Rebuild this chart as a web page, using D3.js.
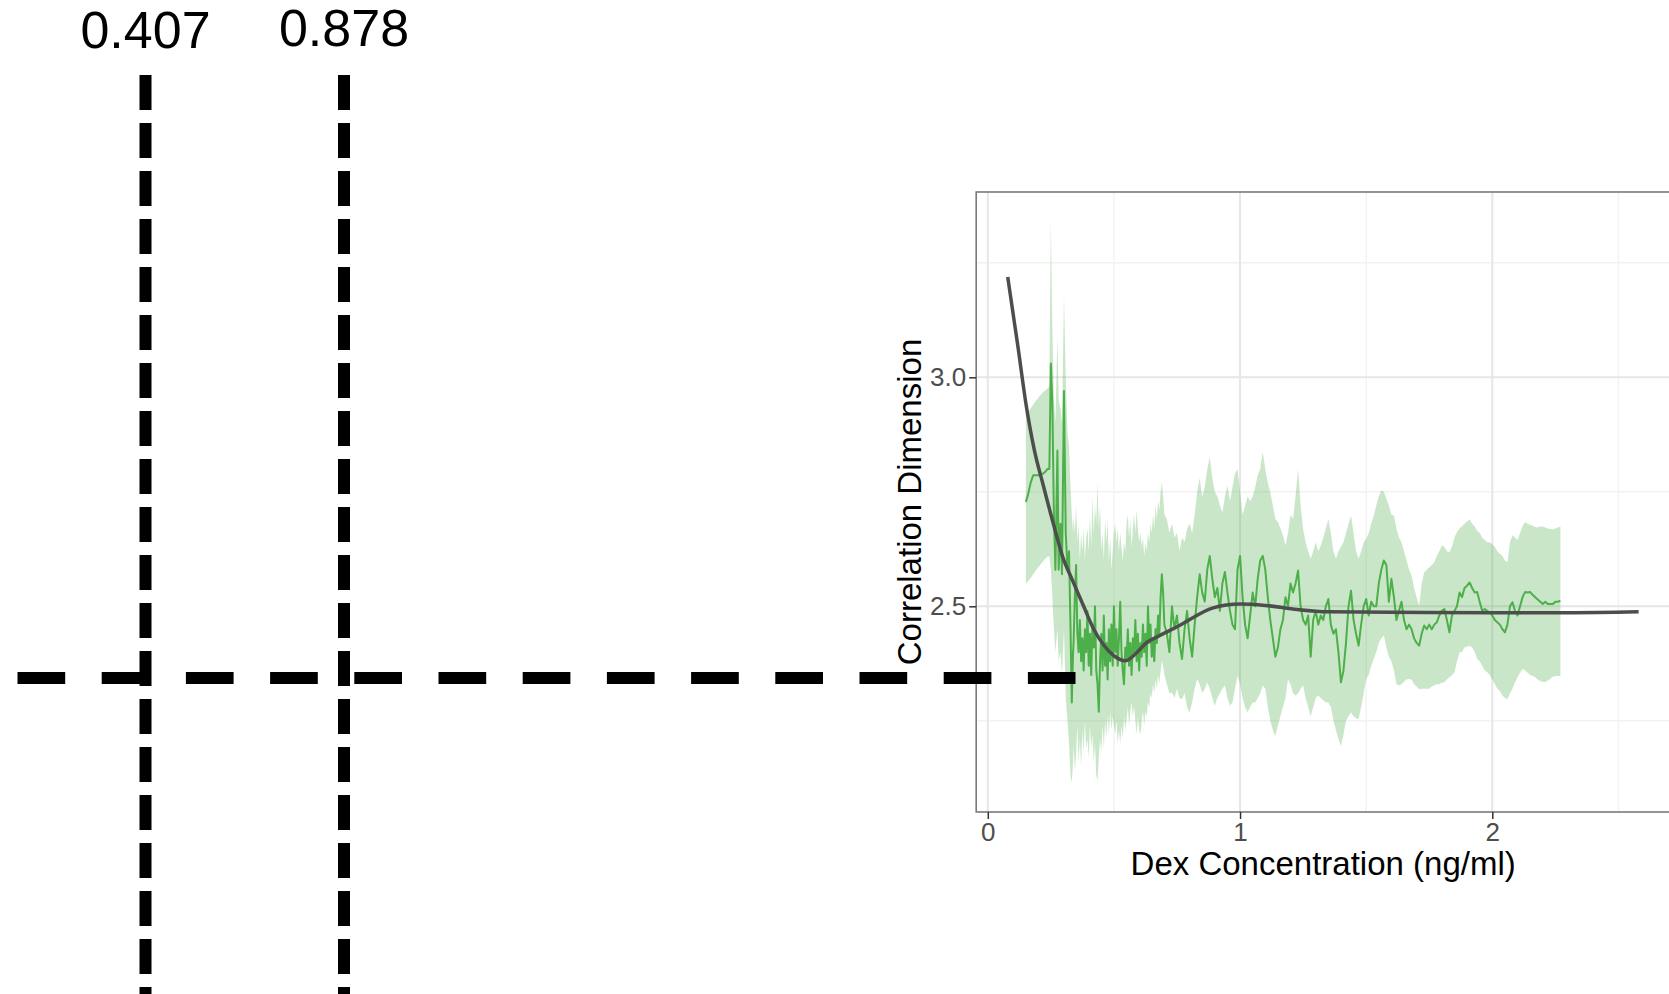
<!DOCTYPE html>
<html>
<head>
<meta charset="utf-8">
<script src="https://cdn.jsdelivr.net/npm/d3@7"></script>
<style>
  html, body { margin: 0; padding: 0; background: #ffffff; }
  svg { display: block; }
  text { font-family: "Liberation Sans", Arial, Helvetica, sans-serif; }
</style>
</head>
<body>
<svg id="chart" width="1669" height="994"></svg>
<script>
// ---------------- DATA ----------------
// Dex concentration (ng/ml) sample positions
const conc = [
  0.151,0.16,0.17,0.18,0.19,0.20,0.21,0.22,0.23,0.237,
  0.244,0.250,0.256,0.262,0.268,0.276,0.281,0.288,0.294,0.302,0.309,0.316,0.322,0.328,0.333,0.338,
  0.340,0.345,0.350,0.355,0.360,0.365,0.370,0.375,0.380,0.385,0.390,0.395,0.400,0.405,0.410,0.415,
  0.420,0.425,0.430,0.435,0.440,0.445,0.450,0.455,0.460,0.465,0.470,0.475,0.480,0.485,0.490,0.495,0.500,
  0.505,0.510,0.515,0.520,0.525,0.530,0.535,0.540,0.545,0.550,0.555,0.560,0.565,0.570,0.575,0.580,
  0.585,0.590,0.595,0.600,0.605,0.610,0.615,0.620,0.625,0.630,0.635,0.640,0.645,0.650,0.655,0.660,
  0.665,0.670,0.675,0.680,0.685,0.690,0.695,0.700,
  0.71,0.72,0.73,0.74,0.75,0.76,0.77,0.78,0.79,0.80,0.81,0.82,0.83,0.84,0.85,0.86,0.87,0.88,0.89,0.90,
  0.91,0.92,0.93,0.94,0.95,0.96,0.97,0.98,0.99,1.00,1.01,1.02,1.03,1.04,1.05,1.06,1.07,1.08,1.09,1.10,
  1.11,1.12,1.13,1.14,1.15,1.16,1.17,1.18,1.19,
  1.20,1.21,1.22,1.23,1.24,1.25,1.26,1.27,1.28,1.29,1.30,1.31,1.32,1.33,1.34,1.35,1.36,1.37,1.38,1.39,
  1.40,1.41,1.42,1.43,1.44,1.45,1.46,1.47,1.48,1.49,1.50,1.51,1.52,1.53,1.54,1.55,1.56,1.57,1.58,1.59,
  1.60,1.61,1.62,1.63,1.64,1.65,1.66,1.67,1.68,1.69,1.70,1.71,1.72,1.73,1.74,1.75,1.76,1.77,1.78,1.79,
  1.80,1.81,1.82,1.83,1.84,1.85,1.86,1.87,1.88,1.89,1.90,1.91,1.92,1.93,1.94,1.95,1.96,1.97,1.98,1.99,
  2.00,2.01,2.02,2.03,2.04,2.05,2.06,2.07,2.08,2.09,2.10,2.11,2.12,2.13,2.14,2.15,2.16,2.17,2.18,2.19,
  2.20,2.21,2.22,2.23,2.24,2.25,2.26,2.27
];

// Correlation dimension (green line)
const corrDim = [
  2.728,2.745,2.770,2.786,2.786,2.786,2.788,2.790,2.795,2.800,
  2.80,3.03,2.94,2.70,2.58,2.84,2.58,2.68,2.57,2.97,2.66,2.58,2.62,2.45,2.29,2.40,
  2.42,2.52,2.59,2.44,2.40,2.47,2.38,2.43,2.36,2.45,2.40,2.49,2.37,2.44,2.35,2.46,
  2.41,2.50,2.36,2.33,2.27,2.38,2.44,2.36,2.48,2.37,2.42,2.34,2.45,2.38,2.46,2.37,2.50,
  2.40,2.45,2.37,2.43,2.51,2.40,2.36,2.33,2.41,2.38,2.45,2.37,2.42,2.35,2.43,2.40,
  2.47,2.38,2.44,2.36,2.42,2.39,2.46,2.40,2.44,2.37,2.50,2.42,2.46,2.39,2.43,2.38,
  2.45,2.42,2.48,2.44,2.52,2.57,2.53,2.46,
  2.44,2.40,2.50,2.45,2.48,2.42,2.385,2.45,2.49,2.43,2.39,2.46,2.52,2.57,2.53,2.51,2.58,2.61,2.56,2.52,
  2.54,2.49,2.55,2.575,2.53,2.49,2.46,2.45,2.58,2.61,2.52,2.46,2.43,2.48,2.53,2.50,2.56,2.60,2.61,2.58,
  2.52,2.47,2.43,2.39,2.41,2.45,2.47,2.52,2.50,
  2.55,2.53,2.55,2.578,2.50,2.47,2.46,2.48,2.39,2.47,2.49,2.46,2.48,2.47,2.50,2.516,2.46,2.44,2.45,2.40,
  2.334,2.36,2.42,2.50,2.534,2.47,2.44,2.414,2.46,2.50,2.516,2.48,2.51,2.50,2.50,2.55,2.58,2.60,2.59,2.51,
  2.56,2.52,2.47,2.49,2.51,2.47,2.45,2.46,2.45,2.43,2.42,2.414,2.44,2.458,2.45,2.46,2.45,2.46,2.465,2.48,
  2.49,2.494,2.47,2.443,2.48,2.49,2.50,2.53,2.52,2.54,2.545,2.552,2.54,2.53,2.531,2.51,2.49,2.494,2.49,2.487,
  2.48,2.47,2.465,2.46,2.45,2.443,2.46,2.50,2.509,2.49,2.48,2.50,2.52,2.531,2.53,2.531,2.525,2.52,2.515,2.51,
  2.505,2.51,2.505,2.505,2.505,2.51,2.51,2.512
];

// Confidence band: upper edge
const ciUpper = [
  2.921,2.925,2.932,2.940,2.948,2.955,2.962,2.968,2.972,2.976,
  2.98,3.344,3.10,2.95,2.90,3.09,2.95,2.93,2.90,3.176,3.00,2.88,2.85,2.76,2.70,2.66,
  2.70,2.66,2.72,2.64,2.68,2.60,2.66,2.62,2.67,2.60,2.65,2.67,2.62,2.70,2.63,2.74,
  2.66,2.72,2.68,2.77,2.67,2.72,2.62,2.66,2.60,2.69,2.64,2.69,2.60,2.65,2.58,2.62,2.66,
  2.68,2.64,2.67,2.62,2.66,2.63,2.60,2.64,2.62,2.68,2.70,2.65,2.69,2.63,2.67,2.70,
  2.66,2.71,2.67,2.64,2.66,2.63,2.65,2.61,2.64,2.62,2.66,2.64,2.68,2.66,2.70,2.67,
  2.72,2.69,2.73,2.71,2.75,2.77,2.74,2.70,
  2.69,2.66,2.68,2.65,2.66,2.62,2.65,2.64,2.67,2.68,2.66,2.70,2.75,2.78,2.74,2.76,2.80,2.826,2.78,2.75,
  2.74,2.72,2.705,2.74,2.764,2.73,2.76,2.79,2.80,2.75,2.70,2.72,2.74,2.73,2.74,2.76,2.786,2.80,2.837,2.80,
  2.77,2.749,2.72,2.69,2.684,2.67,2.655,2.633,2.66,
  2.70,2.691,2.74,2.80,2.72,2.669,2.64,2.62,2.604,2.62,2.64,2.62,2.633,2.65,2.67,2.691,2.66,2.62,2.604,2.62,
  2.63,2.64,2.66,2.68,2.698,2.66,2.62,2.604,2.62,2.64,2.647,2.66,2.68,2.698,2.72,2.74,2.753,2.75,2.735,2.72,
  2.70,2.698,2.67,2.65,2.64,2.62,2.60,2.58,2.567,2.54,2.52,2.501,2.55,2.574,2.58,2.585,2.59,2.596,2.61,2.62,
  2.633,2.63,2.62,2.618,2.63,2.65,2.662,2.67,2.675,2.68,2.685,2.69,2.68,2.675,2.665,2.66,2.65,2.645,2.64,2.64,
  2.635,2.63,2.62,2.615,2.61,2.60,2.596,2.64,2.655,2.65,2.645,2.66,2.675,2.684,2.68,2.678,2.676,2.673,2.672,2.674,
  2.674,2.672,2.67,2.669,2.668,2.67,2.672,2.674
];

// Confidence band: lower edge
const ciLower = [
  2.549,2.555,2.562,2.570,2.578,2.585,2.592,2.599,2.605,2.608,
  2.61,2.58,2.52,2.45,2.40,2.45,2.38,2.40,2.35,2.45,2.30,2.25,2.20,2.13,2.115,2.16,
  2.20,2.14,2.18,2.24,2.16,2.21,2.15,2.23,2.18,2.25,2.19,2.21,2.17,2.24,2.19,2.22,
  2.16,2.20,2.13,2.12,2.17,2.21,2.18,2.24,2.19,2.25,2.21,2.26,2.22,2.27,2.23,2.26,2.24,
  2.22,2.25,2.20,2.23,2.20,2.24,2.21,2.26,2.23,2.25,2.28,2.24,2.27,2.29,2.26,2.28,
  2.25,2.22,2.26,2.23,2.22,2.25,2.27,2.24,2.27,2.26,2.29,2.28,2.31,2.30,2.33,2.31,
  2.34,2.32,2.35,2.33,2.36,2.38,2.37,2.35,
  2.33,2.31,2.312,2.30,2.32,2.30,2.297,2.31,2.28,2.268,2.29,2.32,2.341,2.33,2.31,2.32,2.334,2.32,2.30,2.283,
  2.30,2.31,2.32,2.327,2.30,2.283,2.29,2.32,2.348,2.33,2.30,2.28,2.268,2.28,2.29,2.29,2.30,2.31,2.327,2.32,
  2.28,2.25,2.23,2.217,2.24,2.26,2.28,2.30,2.34,
  2.33,2.31,2.305,2.31,2.32,2.327,2.30,2.28,2.26,2.28,2.30,2.305,2.30,2.295,2.29,2.29,2.28,2.25,2.23,2.21,
  2.195,2.22,2.25,2.26,2.268,2.26,2.255,2.254,2.28,2.31,2.341,2.35,2.37,2.385,2.40,2.42,2.43,2.436,2.41,2.39,
  2.38,2.36,2.33,2.327,2.33,2.335,2.34,2.341,2.34,2.33,2.325,2.319,2.32,2.32,2.32,2.32,2.325,2.327,2.33,2.33,
  2.333,2.334,2.34,2.345,2.35,2.356,2.38,2.399,2.40,2.41,2.412,2.414,2.41,2.40,2.385,2.38,2.37,2.36,2.356,2.35,
  2.34,2.33,2.32,2.315,2.305,2.30,2.297,2.31,2.32,2.334,2.345,2.355,2.363,2.36,2.355,2.35,2.348,2.345,2.34,2.337,
  2.335,2.334,2.338,2.342,2.346,2.348,2.348,2.348
];

// Smoothed trend (dark grey curve)
const smoothConc = [0.079,0.12,0.151,0.185,0.218,0.26,0.297,0.337,0.38,0.42,0.46,0.50,0.545,0.591,0.63,0.656,0.76,0.89,1.00,1.10,1.227,1.35,1.60,2.00,2.30,2.58];
const smoothCd   = [3.219,3.065,2.943,2.84,2.768,2.68,2.608,2.555,2.50,2.45,2.415,2.392,2.381,2.399,2.421,2.429,2.458,2.496,2.505,2.502,2.493,2.488,2.487,2.486,2.486,2.488];

// Axis ticks
const xMajor = [0, 1, 2];
const xMinor = [0.5, 1.5, 2.5];
const yMajor = [2.5, 3.0];
const yMinor = [2.25, 2.75, 3.25];
const xLimits = [-0.046, 2.705];
const yLimits = [2.0509, 3.4046];

// Threshold annotations
const thresholds = [0.407, 0.878];

// ---------------- DRAW ----------------
const svg = d3.select("#chart");
const font = '"Liberation Sans", Arial, Helvetica, sans-serif';

const x = d3.scaleLinear().domain([0, 2]).range([987.8, 1492.3]);
const y = d3.scaleLinear().domain([2.5, 3.0]).range([606.3, 377.3]);
const pL = x(xLimits[0]), pR = x(xLimits[1]);
const pT = y(yLimits[1]), pB = y(yLimits[0]);

svg.append("defs").append("clipPath").attr("id", "panel")
  .append("rect").attr("x", pL).attr("y", pT).attr("width", pR - pL).attr("height", pB - pT);

// grid
const grid = svg.append("g");
grid.selectAll(".xmin").data(xMinor).join("line")
  .attr("x1", d => x(d)).attr("x2", d => x(d)).attr("y1", pT).attr("y2", pB)
  .attr("stroke", "#f2f2f2").attr("stroke-width", 1.4);
grid.selectAll(".ymin").data(yMinor).join("line")
  .attr("x1", pL).attr("x2", pR).attr("y1", d => y(d)).attr("y2", d => y(d))
  .attr("stroke", "#f2f2f2").attr("stroke-width", 1.4);
grid.selectAll(".xmaj").data(xMajor).join("line")
  .attr("x1", d => x(d)).attr("x2", d => x(d)).attr("y1", pT).attr("y2", pB)
  .attr("stroke", "#e6e6e6").attr("stroke-width", 2);
grid.selectAll(".ymaj").data(yMajor).join("line")
  .attr("x1", pL).attr("x2", pR).attr("y1", d => y(d)).attr("y2", d => y(d))
  .attr("stroke", "#e6e6e6").attr("stroke-width", 2);

const pts = conc.map((c, i) => ({ c, v: corrDim[i], lo: ciLower[i], hi: ciUpper[i] }));
const plot = svg.append("g").attr("clip-path", "url(#panel)");

plot.append("path").datum(pts)
  .attr("d", d3.area().x(d => x(d.c)).y0(d => y(d.lo)).y1(d => y(d.hi)))
  .attr("fill", "#4daf4a").attr("fill-opacity", 0.3);

plot.append("path").datum(pts)
  .attr("d", d3.line().x(d => x(d.c)).y(d => y(d.v)))
  .attr("fill", "none").attr("stroke", "#4daf4a").attr("stroke-width", 2)
  .attr("stroke-linejoin", "round");

const sm = smoothConc.map((c, i) => [c, smoothCd[i]]);
plot.append("path").datum(sm)
  .attr("d", d3.line().x(d => x(d[0])).y(d => y(d[1])).curve(d3.curveMonotoneX))
  .attr("fill", "none").attr("stroke", "#4d4d4d").attr("stroke-width", 3.5);

// panel border
svg.append("rect").attr("x", pL).attr("y", pT).attr("width", pR - pL).attr("height", pB - pT)
  .attr("fill", "none").attr("stroke", "#7a7a7a").attr("stroke-width", 1.6);

// axes
const yAxis = svg.append("g").attr("transform", `translate(${pL},0)`)
  .call(d3.axisLeft(y).tickValues(yMajor).tickFormat(d3.format(".1f")).tickSize(7).tickPadding(3));
const xAxis = svg.append("g").attr("transform", `translate(0,${pB})`)
  .call(d3.axisBottom(x).tickValues(xMajor).tickFormat(d3.format("d")).tickSize(7).tickPadding(4));
[yAxis, xAxis].forEach(a => {
  a.select(".domain").remove();
  a.selectAll(".tick line").attr("stroke", "#333333").attr("stroke-width", 1.5);
  a.selectAll(".tick text").attr("fill", "#4d4d4d").style("font-size", "26px").style("font-family", font);
});

svg.append("text").attr("x", (pL + pR) / 2).attr("y", 875)
  .attr("text-anchor", "middle").style("font-size", "33px").attr("fill", "#000")
  .text("Dex Concentration (ng/ml)");
svg.append("text").attr("transform", `translate(921,${(pT + pB) / 2}) rotate(-90)`)
  .attr("text-anchor", "middle").style("font-size", "33px").attr("fill", "#000")
  .text("Correlation Dimension");

// threshold overlay (dashed guides)
const ov = d3.scaleLinear().domain(thresholds).range([145.5, 344]);
const labelBase = [48.3, 45.7];
const overlay = svg.append("g");
overlay.selectAll("text.th").data(thresholds).join("text")
  .attr("x", d => ov(d)).attr("y", (d, i) => labelBase[i])
  .attr("text-anchor", "middle").style("font-size", "52px").attr("fill", "#000")
  .text(d => d3.format(".3f")(d));
overlay.selectAll("line.v").data(thresholds).join("line")
  .attr("x1", d => ov(d)).attr("x2", d => ov(d)).attr("y1", 75).attr("y2", 1000)
  .attr("stroke", "#000").attr("stroke-width", 12).attr("stroke-dasharray", "35 13");
overlay.append("line")
  .attr("x1", 17.5).attr("x2", 1075.5).attr("y1", 678).attr("y2", 678)
  .attr("stroke", "#000").attr("stroke-width", 12).attr("stroke-dasharray", "47.7 36.5");
</script>
</body>
</html>
